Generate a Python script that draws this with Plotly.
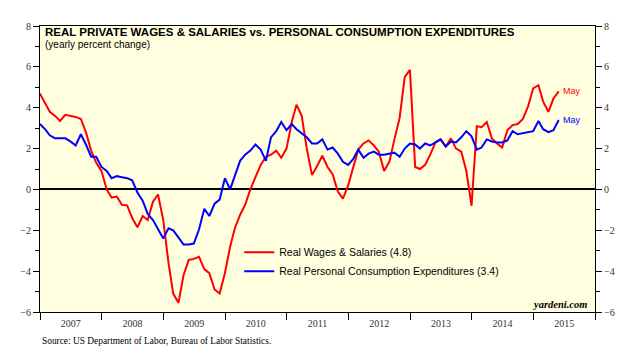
import pandas as pd
import plotly.graph_objects as go

# Monthly data, Dec 2006 .. May 2015 (plotted at month end)
months = pd.date_range("2006-12-31", "2015-05-31", freq="ME")

wages = [4.7, 4.2, 3.8, 3.6, 3.35, 3.65, 3.6, 3.55, 3.45, 2.8, 1.9, 1.3,
         0.9, 0.0, -0.4, -0.35, -0.75, -0.78, -1.4, -1.85, -1.3, -1.5, -0.6, -0.25,
         -1.5, -3.6, -5.1, -5.55, -4.2, -3.45, -3.4, -3.3, -3.9, -4.1, -4.9, -5.1,
         -4.1, -2.8, -1.9, -1.25, -0.75, 0.0, 0.6, 1.2, 1.6, 1.7, 1.9, 1.55,
         2.0, 3.3, 4.15, 3.6, 2.0, 0.7, 1.15, 1.65, 1.1, 0.75, -0.1, -0.45,
         0.2, 1.15, 1.95, 2.25, 2.4, 2.15, 1.85, 0.9, 1.35, 2.45, 3.5, 5.5,
         5.85, 1.1, 1.0, 1.2, 1.7, 2.3, 2.45, 2.1, 2.5, 2.0, 1.85, 0.9,
         -0.8, 3.1, 3.05, 3.3, 2.5, 2.25, 2.05, 2.9, 3.15, 3.2, 3.45, 4.05,
         4.95, 5.1, 4.3, 3.8, 4.45, 4.8]

pce = [3.2, 2.95, 2.65, 2.5, 2.5, 2.5, 2.35, 2.15, 2.7, 2.2, 1.6, 1.6,
       1.1, 0.9, 0.55, 0.65, 0.6, 0.55, 0.45, -0.15, -0.55, -1.2, -1.5, -1.95,
       -2.4, -1.9, -2.0, -2.35, -2.7, -2.7, -2.65, -1.95, -0.95, -1.3, -0.7, -0.5,
       0.55, 0.0, 0.7, 1.4, 1.7, 1.9, 2.2, 1.95, 1.4, 2.55, 2.85, 3.3,
       2.9, 3.2, 2.95, 2.75, 2.55, 2.25, 2.25, 2.45, 1.95, 2.05, 1.75, 1.35,
       1.2, 1.5, 1.95, 1.55, 1.75, 1.85, 1.7, 1.7, 1.75, 1.8, 1.6, 2.0,
       2.25, 2.2, 2.0, 2.25, 2.15, 2.3, 2.45, 2.1, 2.35, 2.3, 2.55, 2.85,
       2.6, 1.95, 2.05, 2.45, 2.35, 2.3, 2.3, 2.4, 2.85, 2.7, 2.75, 2.8,
       2.85, 3.35, 2.95, 2.8, 2.9, 3.4]

series_names = ["Real Wages & Salaries (4.8)",
                "Real Personal Consumption Expenditures (3.4)"]
y_ticks = [-6, -4, -2, 0, 2, 4, 6, 8]

SERIF = "Liberation Serif, Times New Roman, serif"
SANS = "Liberation Sans, Arial, sans-serif"

fig = go.Figure()
fig.add_trace(go.Scatter(x=months, y=wages, mode="lines", name=series_names[0],
                         line=dict(color="#FF0000", width=2)))
fig.add_trace(go.Scatter(x=months, y=pce, mode="lines", name=series_names[1],
                         line=dict(color="#0000FF", width=2)))
# invisible trace to activate right axis
fig.add_trace(go.Scatter(x=[months[0]], y=[0], yaxis="y2", mode="markers",
                         marker=dict(opacity=0), showlegend=False, hoverinfo="skip"))

yax = dict(range=[-6, 8], tickvals=y_ticks, ticks="outside", ticklen=6, tickwidth=1,
           tickcolor="black", showgrid=False, zeroline=True, zerolinecolor="black",
           zerolinewidth=1.5, showline=True, linecolor="black", linewidth=1,
           tickfont=dict(family=SERIF, size=10, color="#333"),
           minor=dict(dtick=1, ticks="outside", ticklen=4, tickcolor="black"))

fig.update_layout(
    width=634, height=358,
    margin=dict(l=30.5, r=46.5, t=15, b=54),
    paper_bgcolor="white", plot_bgcolor="#FFFFE0",
    xaxis=dict(type="date", range=["2007-01-01", "2016-01-01"], dtick="M12",
               tick0="2007-01-01", ticklabelmode="period", tickformat="%Y",
               ticks="outside", ticklen=7, tickwidth=1, tickcolor="black",
               ticklabelstandoff=-5,
               showgrid=False, showline=True, linecolor="black", linewidth=1,
               mirror=True, tickfont=dict(family=SERIF, size=10, color="#333")),
    yaxis=yax,
    yaxis2=dict(yax, overlaying="y", side="right", zeroline=False),
    showlegend=True,
    legend=dict(x=0.359, y=0.26, xanchor="left", yanchor="top",
                bgcolor="rgba(0,0,0,0)", font=dict(family=SANS, size=10.5, color="black"),
                tracegroupgap=0),
    font=dict(family=SANS),
)

fig.add_annotation(xref="paper", yref="paper", x=0.01, y=0.969, xanchor="left",
                   yanchor="middle", showarrow=False, xshift=-3, yshift=3,
                   text="<b>REAL PRIVATE WAGES & SALARIES vs. PERSONAL CONSUMPTION EXPENDITURES</b>",
                   font=dict(family=SANS, size=11.5, color="black"))
fig.add_annotation(xref="paper", yref="paper", x=0.01, y=0.927, xanchor="left",
                   yanchor="middle", showarrow=False, xshift=-3, yshift=2,
                   text="(yearly percent change)",
                   font=dict(family=SANS, size=10, color="black"))
fig.add_annotation(x=months[-1], y=wages[-1], xanchor="left", yanchor="middle",
                   xshift=2, showarrow=False, text="May",
                   font=dict(family=SANS, size=9, color="#FF0000"))
fig.add_annotation(x=months[-1], y=pce[-1], xanchor="left", yanchor="middle",
                   xshift=2, showarrow=False, text="May",
                   font=dict(family=SANS, size=9, color="#0000FF"))
fig.add_annotation(xref="paper", yref="paper", x=0.99, y=0.0, xanchor="right",
                   yanchor="bottom", showarrow=False, text="<b><i>yardeni.com</i></b>",
                   font=dict(family=SERIF, size=10.5, color="black"))
fig.add_annotation(xref="paper", yref="paper", x=0.0, y=-0.1, xanchor="left",
                   yanchor="middle", showarrow=False,
                   text="Source: US Department of Labor, Bureau of Labor Statistics.",
                   font=dict(family=SERIF, size=9.4, color="black"))

fig.write_html("out.html")
